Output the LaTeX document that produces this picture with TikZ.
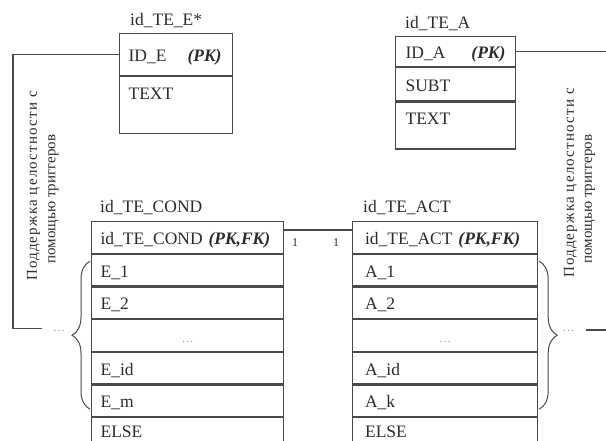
\documentclass[tikz,border=0pt]{standalone}
\usepackage{fontspec}
\setmainfont{Liberation Serif}
\usetikzlibrary{positioning,decorations.pathreplacing}
\definecolor{linec}{HTML}{4A4A4A}
\definecolor{textc}{HTML}{2B2B2B}
\definecolor{dotc}{HTML}{9A9A9A}

\begin{document}
\begin{tikzpicture}[x=1pt, y=-1pt,
		every node/.style = {text=textc},
		field/.style = {draw=linec, line width=1.2pt, anchor=north west, inner ysep=0pt,
			font=\fontsize{17.5}{20}\selectfont, text height=16pt, text depth=2pt, align=left},
		efield/.style = {field, text width=95pt, inner xsep=9pt},
		afield/.style = {field, text width=100pt, inner xsep=10pt},
		condfield/.style = {field, text width=174pt, inner xsep=9pt, minimum height=31.5pt},
		actfield/.style = {field, text width=160pt, inner xsep=12.5pt, minimum height=31.5pt},
		lastfield/.style = {text height=13pt, text depth=5pt},
		title/.style = {anchor=base west, inner sep=0pt, font=\fontsize{17.5}{20}\selectfont},
		link/.style = {draw=linec, line width=1.2pt},
		brace/.style = {draw=linec, line width=1pt, decorate, decoration={brace, amplitude=18pt}},
		card/.style = {inner sep=0pt, font=\fontsize{12}{12}\selectfont},
		dots/.style = {inner sep=0pt, text=dotc, font=\fontsize{12}{12}\selectfont},
		sidenote/.style = {rotate=90, inner sep=0pt, font=\fontsize{15}{18}\selectfont}
	]
	\useasboundingbox (0,0) rectangle (606,440);

	% table id_TE_E*
	\node[title] (etitle) at (130,25) {id\_TE\_E*};
	\node[efield, minimum height=42pt] (erow1) at (119,33) {ID\_E\hspace{21pt}\textbf{\textit{(PK)}}};
	\node[efield, below=0pt of erow1, text height=23pt, text depth=34pt] (erow2) {TEXT};

	% table id_TE_A
	\node[title] (atitle) at (405,28) {id\_TE\_A};
	\node[afield, minimum height=30pt] (arow1) at (395,36) {ID\_A\hspace{26pt}\textbf{\textit{(PK)}}};
	\node[afield, below=0pt of arow1, minimum height=33pt] (arow2) {SUBT};
	\node[afield, below=0pt of arow2, text height=22.5pt, text depth=24.5pt] (arow3) {TEXT};

	% table id_TE_COND
	\node[title] (condtitle) at (100,212) {id\_TE\_COND};
	\node[condfield] (cond0) at (91,221) {id\_TE\_COND \textbf{\textit{(PK,FK)}}};
	\node[condfield, below=0pt of cond0] (cond1) {E\_1};
	\node[condfield, below=0pt of cond1] (cond2) {E\_2};
	\node[condfield, below=0pt of cond2, align=center] (cond3) {\textcolor{dotc}{\fontsize{12}{12}\selectfont\ldots}};
	\node[condfield, below=0pt of cond3] (cond4) {E\_id};
	\node[condfield, below=0pt of cond4] (cond5) {E\_m};
	\node[condfield, lastfield, below=0pt of cond5] (cond6) {ELSE};

	% table id_TE_ACT
	\node[title] (acttitle) at (363,212) {id\_TE\_ACT};
	\node[actfield] (act0) at (352,221) {id\_TE\_ACT \textbf{\textit{(PK,FK)}}};
	\node[actfield, below=0pt of act0] (act1) {A\_1};
	\node[actfield, below=0pt of act1] (act2) {A\_2};
	\node[actfield, below=0pt of act2, align=center] (act3) {\textcolor{dotc}{\fontsize{12}{12}\selectfont\ldots}};
	\node[actfield, below=0pt of act3] (act4) {A\_id};
	\node[actfield, below=0pt of act4] (act5) {A\_k};
	\node[actfield, lastfield, below=0pt of act5] (act6) {ELSE};

	% 1 : 1
	\draw[link] ([yshift=-9pt]cond0.north east) -- ([yshift=-9pt]act0.north west);
	\node[card] (lone) at (295,243) {1};
	\node[card] (rone) at (336,243) {1};

	% left: triggers E
	\coordinate (lcorner) at (13,328.5);
	\coordinate (lend) at (42,328.5);
	\draw[link] (erow1.west) -| (lcorner) -- (lend);
	\node[dots] (ldots) at (59,331) {\ldots};
	\draw[brace] ([xshift=-1pt, yshift=8pt]cond5.south west) -- ([xshift=-1pt, yshift=-7.5pt]cond1.north west);
	\node[sidenote] (lnote1) at (33.5,186) {\addfontfeature{LetterSpace=8}Поддержка целостности с};
	\node[sidenote] (lnote2) at (53.5,199) {помощью триггеров};

	% right: triggers A
	\coordinate (rcorner) at (606.6,330);
	\coordinate (rend) at (586,330);
	\draw[link] (arow1.east) -| (rcorner) -- (rend);
	\node[dots] (rdots) at (568.5,331) {\ldots};
	\draw[brace] ([xshift=1pt, yshift=-7.5pt]act1.north east) -- ([xshift=1pt, yshift=8pt]act5.south east);
	\node[sidenote] (rnote1) at (570.5,183) {\addfontfeature{LetterSpace=8}Поддержка целостности с};
	\node[sidenote] (rnote2) at (590,199) {помощью триггеров};
\end{tikzpicture}
\end{document}
